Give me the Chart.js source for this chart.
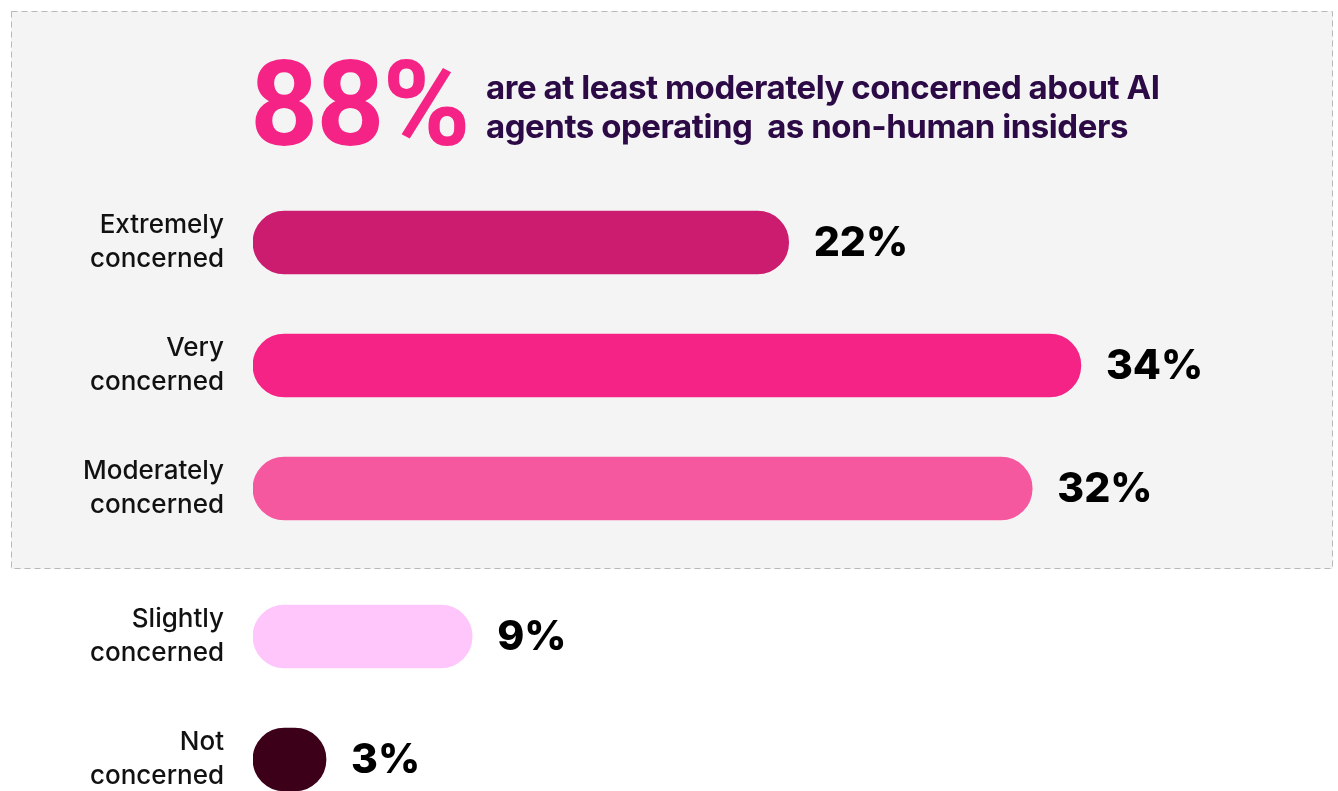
<!DOCTYPE html>
<html>
<head>
<meta charset="utf-8">
<script src="https://cdn.jsdelivr.net/npm/chart.js@4/dist/chart.umd.min.js"></script>
<style>
  html, body { margin: 0; padding: 0; background: #fff; overflow: hidden; }
  body { width: 1338px; height: 791px; position: relative; font-family: Inter, "Noto Sans", sans-serif; }
  canvas { position: absolute; left: 0; }
  #top { top: 0; }
  #bottom { top: 575px; }
  .big {
    position: absolute; left: 250px; top: 30px;
    font-family: Roboto, sans-serif;
    font-size: 119px; font-weight: 700; color: #f52385; letter-spacing: -2px; line-height: 150px;
  }
  .sub {
    position: absolute; left: 486px; top: 68px;
    font-size: 33px; font-weight: 700; color: #2b0a45; line-height: 39px; letter-spacing: -0.45px;
    white-space: pre;
  }
</style>
</head>
<body>
<canvas id="top" width="1338" height="575"></canvas>
<canvas id="bottom" width="1338" height="246"></canvas>
<div class="big">88%</div>
<div class="sub">are at least moderately concerned about AI
agents operating  as non-human insiders</div>
<script>
// survey answers, top to bottom
var categories = [
    ['Extremely', 'concerned'],
    ['Very', 'concerned'],
    ['Moderately', 'concerned'],
    ['Slightly', 'concerned'],
    ['Not', 'concerned']
];
var shares = [22, 34, 32, 9, 3];
var barColors = ['#cc1c70', '#f52385', '#f5589e', '#fec6fb', '#3d0019'];

// first three answers sit inside the grey panel
var splitAt = 3;

// writes "NN%" right of each bar
var valueLabels = {
    id: 'valueLabels',
    afterDatasetsDraw: function(chart) {
        var ctx = chart.ctx;
        var meta = chart.getDatasetMeta(0);
        var data = chart.data.datasets[0].data;
        ctx.save();
        ctx.font = '800 41px Inter';
        ctx.fillStyle = '#000';
        ctx.textBaseline = 'middle';
        ctx.textAlign = 'left';
        meta.data.forEach(function(bar, i) {
            ctx.fillText(data[i] + '%', bar.x + 25, bar.y + 1);
        });
        ctx.restore();
    }
};

// grey dashed panel behind the headline and the first group of bars
var panel = {
    id: 'panel',
    beforeDraw: function(chart) {
        var ctx = chart.ctx;
        ctx.save();
        ctx.fillStyle = '#f4f4f4';
        ctx.fillRect(11, 11, 1322, 558);
        ctx.strokeStyle = '#b8b8b8';
        ctx.lineWidth = 1;
        ctx.setLineDash([6, 4]);
        ctx.strokeRect(11.5, 11.5, 1321, 557);
        ctx.restore();
    }
};

function makeChart(id, labels, values, colors, padTop, padBottom, extra) {
    var context = document.getElementById(id).getContext('2d');
    return new Chart(context, {
        type: 'bar',
        data: {
            labels: labels,
            datasets: [{
                data: values,
                backgroundColor: colors,
                hoverBackgroundColor: colors,
                barThickness: 63,
                borderRadius: 32,
                borderSkipped: false
            }]
        },
        options: {
            indexAxis: 'y',
            responsive: false,
            animation: false,
            devicePixelRatio: 1,
            layout: { padding: { left: 0, right: 111, top: padTop, bottom: padBottom } },
            plugins: {
                legend: { display: false },
                tooltip: { enabled: false }
            },
            scales: {
                x: {
                    display: false,
                    min: 0,
                    max: 40
                },
                y: {
                    grid: { display: false, drawTicks: false },
                    border: { display: false },
                    ticks: {
                        color: '#111',
                        padding: 29,
                        font: { family: 'Inter', size: 26, weight: '500', lineHeight: 1.31 }
                    },
                    afterFit: function(scale) {
                        scale.width = 253;
                        scale.paddingTop = 0;
                        scale.paddingBottom = 0;
                    }
                }
            }
        },
        plugins: extra.concat([valueLabels])
    });
}

makeChart('top', categories.slice(0, splitAt), shares.slice(0, splitAt), barColors.slice(0, splitAt), 181, 25, [panel]);
makeChart('bottom', categories.slice(splitAt), shares.slice(splitAt), barColors.slice(splitAt), 0, 0, []);
</script>
</body>
</html>
